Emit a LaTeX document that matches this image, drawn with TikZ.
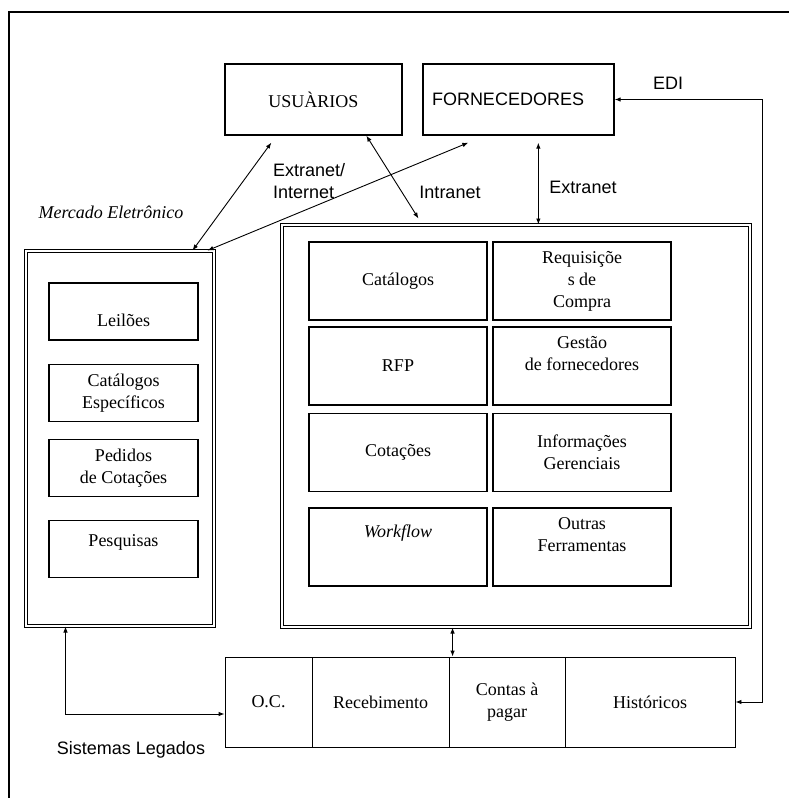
\documentclass[tikz,border=0pt]{standalone}
\usepackage{fontspec}
\setmainfont{Liberation Serif}
\newfontfamily\labelfont{Liberation Sans}
\usetikzlibrary{arrows.meta}

\begin{document}
\begin{tikzpicture}[x=1pt, y=-1pt,
    % Define styles
    cell/.style={
        rectangle,
        draw,
        line width=1.3pt,
        inner sep=0pt,
        align=center,
        font=\fontsize{18}{22}\selectfont
    },
    rowcell/.style={
        cell,
        line width=0.9pt,
        minimum height=90pt
    },
    panel/.style={
        rectangle,
        draw,
        line width=1pt,
        double,
        double distance=2pt,
        inner sep=0pt
    },
    plain/.style={
        align=left,
        inner sep=0pt,
        font=\labelfont\fontsize{18}{22}\selectfont
    },
    arrow/.style={
        {Latex[length=6pt,width=4.5pt]}-{Latex[length=6pt,width=4.5pt]},
        line width=0.9pt
    }
]

% Page size and outer frame
\useasboundingbox (0,0) rectangle (789,798);
\draw[line width=1.2pt] (9,798) -- (9,12) -- (789,12);

% Top boxes
\node[cell, minimum width=177pt, minimum height=71pt] (usuarios) at (313.5,99.5) {USUÀRIOS};
\node[cell, minimum width=191pt, minimum height=71pt, text width=173pt, align=left,
      font=\labelfont\fontsize{18}{22}\selectfont] (fornec) at (518.5,99.5) {FORNECEDORES};

% Mercado eletronico
\node[font=\itshape\fontsize{18}{22}\selectfont, inner sep=0pt] (mercadotitle) at (111,212) {Mercado Eletrônico};
\node[panel, minimum width=188pt, minimum height=375pt] (mercado) at (120,438.5) {};
\node[cell, minimum width=149pt, minimum height=57pt, text height=30pt] (leiloes) at (123.5,311.5) {Leilões};
\node[cell, minimum width=149pt, minimum height=57pt] (catesp) at (123.5,393) {Catálogos\\Específicos};
\node[cell, minimum width=149pt, minimum height=57pt] (pedidos) at (123.5,468) {Pedidos\\de Cotações};
\node[cell, minimum width=149pt, minimum height=57pt, text depth=16pt] (pesquisas) at (123.5,549) {Pesquisas};

% Main panel
\node[panel, minimum width=468pt, minimum height=402pt] (main) at (516,426) {};
\node[cell, minimum width=178pt, minimum height=78pt] (catalogos) at (398,281) {Catálogos};
\node[cell, minimum width=178pt, minimum height=78pt] (requis) at (582,281) {Requisiçõe\\s de\\Compra};
\node[cell, minimum width=178pt, minimum height=78pt] (rfp) at (398,366) {RFP};
\node[cell, minimum width=178pt, minimum height=78pt, text depth=26pt] (gestao) at (582,366) {Gestão\\de fornecedores};
\node[cell, minimum width=178pt, minimum height=78pt] (cotacoes) at (398,452.5) {Cotações};
\node[cell, minimum width=178pt, minimum height=78pt] (infoger) at (582,452.5) {Informações\\Gerenciais};
\node[cell, minimum width=178pt, minimum height=78pt, text depth=32pt] (workflow) at (398,547) {\itshape Workflow};
\node[cell, minimum width=178pt, minimum height=78pt, text depth=24pt] (outras) at (582,547) {Outras\\Ferramentas};

% Bottom row
\node[rowcell, minimum width=87pt] (oc) at (268.5,702) {O.C.};
\node[rowcell, minimum width=137pt] (receb) at (380.5,702) {Recebimento};
\node[rowcell, minimum width=116pt] (contas) at (507,702) {Contas à\\pagar};
\node[rowcell, minimum width=170pt] (hist) at (650,702) {Históricos};

% Connector labels
\node[plain, anchor=west] (extint) at (273,181) {Extranet/\\Internet};
\node[plain] (intranet) at (450,192) {Intranet};
\node[plain] (extranet) at (583,187) {Extranet};
\node[plain] (edi) at (668,83) {EDI};
\node[plain] (legados) at (131,750) {Sistemas Legados};

% Connectors
\draw[arrow] ([xshift=47pt,yshift=-7pt]usuarios.south west) -- ([xshift=167pt]mercado.north west);
\draw[arrow] ([xshift=46pt,yshift=-7pt]fornec.south west) -- ([xshift=182pt]mercado.north west);
\draw[arrow] ([xshift=142pt]usuarios.south west) -- ([xshift=137pt,yshift=6pt]main.north west);
\draw[arrow] ([xshift=116pt,yshift=-7pt]fornec.south west) coordinate (fx) -- (fx |- main.north);
\draw[arrow] (hist.east) -- ++(27,0) |- (fornec.east);
\draw[arrow] ([xshift=4pt]contas.north west) coordinate (cx) -- (cx |- main.south);
\draw[arrow] ([xshift=40pt]mercado.south west) |- ([yshift=-12pt]oc.west);
\end{tikzpicture}
\end{document}
